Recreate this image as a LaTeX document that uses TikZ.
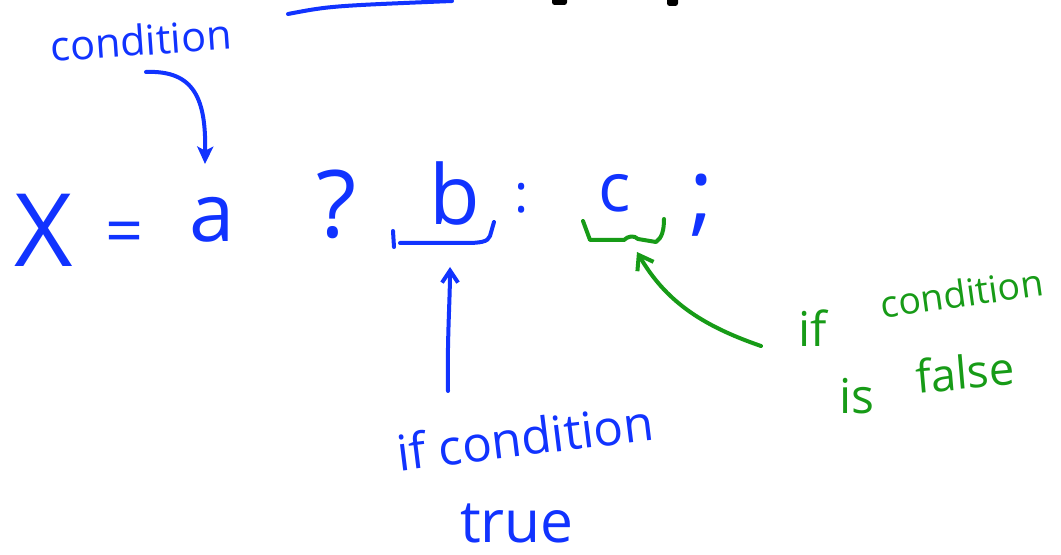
\documentclass[tikz,border=0pt]{standalone}
\usepackage{fontspec}
\setmainfont{Open Sans}
\usetikzlibrary{arrows.meta}
\definecolor{penblue}{HTML}{1133FF}
\definecolor{pengreen}{HTML}{179B17}
\begin{document}
\begin{tikzpicture}[x=0.75pt,y=-0.75pt,
  bpen/.style={draw=penblue, line width=3pt, line cap=round, line join=round},
  gpen/.style={draw=pengreen, line width=3pt, line cap=round, line join=round},
  glyph/.style={text=penblue, inner sep=0pt, anchor=base},
  note/.style={inner sep=0pt}]
\fill[white] (0,0) rectangle (1061,555);
\useasboundingbox (0,0) rectangle (1061,555);

% cut-off strokes at the top
\draw[bpen] (288,14) .. controls (330,6) .. (452,1);
\fill[black, rounded corners=2] (552,-3) rectangle (567,5);
\fill[black, rounded corners=2] (667,-3) rectangle (678,6);

% labels
\node[note, text=penblue, font=\fontsize{31}{34}\selectfont, rotate=4] (cond) at (141,40) {condition};
\node[note, text=penblue, font=\fontsize{37}{40}\selectfont, rotate=7] (iftrue) at (525,437) {if condition};
\node[note, text=penblue, font=\fontsize{44}{48}\selectfont] (true) at (517,523) {true};
\node[note, text=pengreen, font=\fontsize{36}{38}\selectfont] (iffalseA) at (813,328) {if};
\node[note, text=pengreen, font=\fontsize{28}{30}\selectfont, rotate=8] (iffalseB) at (962,293) {condition};
\node[note, text=pengreen, font=\fontsize{36}{38}\selectfont] (isfalseA) at (857,396) {is};
\node[note, text=pengreen, font=\fontsize{34}{36}\selectfont, rotate=5] (isfalseB) at (965,372) {false};

% expression
\node[glyph, font=\fontsize{76}{80}\selectfont] (X) at (44,267) {X};
\node[glyph, font=\fontsize{50}{54}\selectfont] (eq) at (125,255) {=};
\node[glyph, font=\fontsize{61}{64}\selectfont] (a) at (212,242) {a};
\node[glyph, font=\fontsize{70}{74}\selectfont] (q) at (337,238) {?};
\node[glyph, font=\fontsize{62}{66}\selectfont] (b) at (455,225) {b};
\node[glyph, font=\fontsize{40}{44}\selectfont] (colon) at (522,213) {:};
\node[glyph, font=\fontsize{51}{54}\selectfont] (c) at (615,212) {c};
\node[glyph, font=\fontsize{69}{72}\selectfont] (semi) at (702,225) {;};

% braces
\draw[bpen] (393,231) -- (394,247);
\draw[bpen] (400,243) -- (465,243) .. controls (480,243) and (488,242) .. (490,236) -- (494,222);
\draw[gpen] (583,221) -- (590,240) -- (624,240) .. controls (628,236) and (634,235) .. (638,239) -- (656,242) .. controls (662,238) and (664,230) .. (664,219);

% connectors
\coordinate (condtail) at (146,72);
\coordinate (condtip) at (205,164);
\coordinate (truetail) at (448,391);
\coordinate (truetip) at (450,267);
\coordinate (falsetail) at (761,346);
\coordinate (falsetip) at (637,252);
\draw[bpen, -{Stealth[length=13pt,width=12pt,inset=3pt]}] (condtail) .. controls (195,70) and (206,100) .. (condtip);
\draw[bpen, -{Straight Barb[length=9pt,width=12pt]}] (truetail) .. controls (447,340) and (450,300) .. (truetip);
\draw[gpen, -{Straight Barb[length=10pt,width=14pt]}] (falsetail) .. controls (700,325) and (665,300) .. (falsetip);
\end{tikzpicture}
\end{document}
